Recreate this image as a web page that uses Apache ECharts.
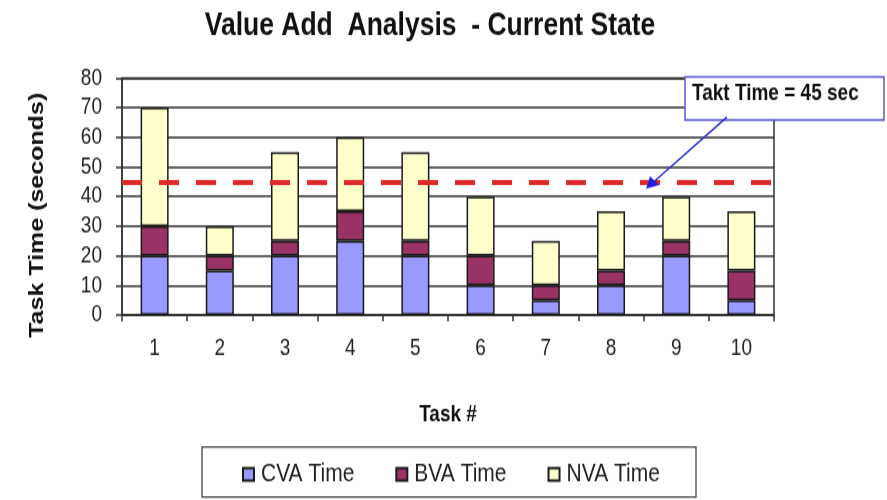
<!DOCTYPE html>
<html>
<head>
<meta charset="utf-8">
<script src="https://cdn.jsdelivr.net/npm/echarts@6/dist/echarts.min.js"></script>
<style>
html,body{margin:0;padding:0;background:#fff;width:887px;height:500px;overflow:hidden;}
#wrap{position:relative;width:887px;height:500px;overflow:hidden;}
#chart{position:absolute;left:0;top:0;width:887px;height:400px;transform:scaleY(1.25);transform-origin:0 0;}
</style>
</head>
<body>
<div id="wrap"><div id="chart"></div></div>
<script>
const categories = ['1','2','3','4','5','6','7','8','9','10'];
const cvaTime = [20, 15, 20, 25, 20, 10, 5, 10, 20, 5];
const bvaTime = [10, 5, 5, 10, 5, 10, 5, 5, 5, 10];
const nvaTime = [40, 10, 30, 25, 30, 20, 15, 20, 15, 20];
const yTicks = [0, 10, 20, 30, 40, 50, 60, 70, 80];
const taktTime = 45;
const taktLabel = 'Takt Time = 45 sec';

// The reference picture is stretched vertically; the chart is drawn at 887x400 and scaled 1.25x in height.
const chart = echarts.init(document.getElementById('chart'), null, {renderer: 'canvas', width: 887, height: 400});
const sans = "'Liberation Sans', Arial, sans-serif";
const barStyle = (c) => ({color: c, borderColor: '#1a1a1a', borderWidth: 1.5});

const option = {
  backgroundColor: '#fff',
  animation: false,
  title: {
    text: 'Value Add  Analysis  - Current State',
    left: 425, top: 2, textAlign: 'center',
    textStyle: {fontFamily: sans, fontWeight: 'bold', fontSize: 26.5, color: '#111'}
  },
  grid: {left: 122, right: 113, top: 62.4, bottom: 148, show: true, borderColor: '#333', borderWidth: 1.5, backgroundColor: 'transparent'},
  legend: {
    left: 242, top: 369, padding: 0, itemGap: 41, itemWidth: 11, itemHeight: 10,
    icon: 'rect',
    textStyle: {fontFamily: sans, fontSize: 21, color: '#222', padding: [0,0,0,2]},
    data: ['CVA Time', 'BVA Time', 'NVA Time']
  },
  xAxis: {
    type: 'category', data: categories,
    name: 'Task #', nameLocation: 'middle', nameGap: 70,
    nameTextStyle: {fontFamily: sans, fontWeight: 'bold', fontSize: 19, color: '#111'},
    axisLine: {lineStyle: {color: '#333', width: 1.5}},
    axisTick: {show: true, length: 5, lineStyle: {color: '#333', width: 1.5}},
    axisLabel: {fontFamily: sans, fontSize: 19, color: '#222', margin: 17}
  },
  yAxis: {
    type: 'value', min: yTicks[0], max: yTicks[yTicks.length-1], interval: 10,
    name: 'Task Time (seconds)', nameLocation: 'middle', nameGap: 75,
    nameTextStyle: {fontFamily: sans, fontWeight: 'bold', fontSize: 20, color: '#111', padding: [0, 30, 0, 0]},
    axisLine: {show: true, lineStyle: {color: '#333', width: 1.5}},
    axisTick: {show: true, length: 6, lineStyle: {color: '#333', width: 1.5}},
    axisLabel: {fontFamily: sans, fontSize: 19, color: '#222', margin: 20},
    splitLine: {lineStyle: {color: '#333', width: 1.5}}
  },
  series: [
    {name: 'CVA Time', type: 'bar', stack: 't', barWidth: 28, data: cvaTime, itemStyle: barStyle('#9999ff')},
    {name: 'BVA Time', type: 'bar', stack: 't', barWidth: 28, data: bvaTime, itemStyle: barStyle('#993366')},
    {name: 'NVA Time', type: 'bar', stack: 't', barWidth: 28, data: nvaTime, itemStyle: barStyle('#ffffcc'),
     markLine: {
       silent: true, symbol: ['none','none'], label: {show: false},
       lineStyle: {color: '#e02828', width: 4, type: [20, 17]},
       data: [{yAxis: taktTime}]
     }}
  ],
  graphic: [
    {type: 'rect', shape: {x: 202, y: 357.6, width: 494, height: 40}, style: {fill: 'none', stroke: '#444', lineWidth: 1.3}, z: 0},
    {type: 'rect', shape: {x: 685, y: 61.6, width: 199, height: 34.4}, style: {fill: '#fff', stroke: '#5a5ad0', lineWidth: 1.5}, z: 10},
    {type: 'text', left: 692, top: 65, z: 11, style: {text: taktLabel, fontFamily: sans, fontWeight: 'bold', fontSize: 19, fill: '#111'}},
    {type: 'line', shape: {x1: 727, y1: 93.6, x2: 653, y2: 146}, style: {stroke: '#2b2bd6', lineWidth: 1.5}, z: 10},
    {type: 'polygon', shape: {points: [[646, 151], [650, 141], [659, 148]]}, style: {fill: '#2020e0'}, z: 10}
  ]
};
chart.setOption(option);
</script>
</body>
</html>
